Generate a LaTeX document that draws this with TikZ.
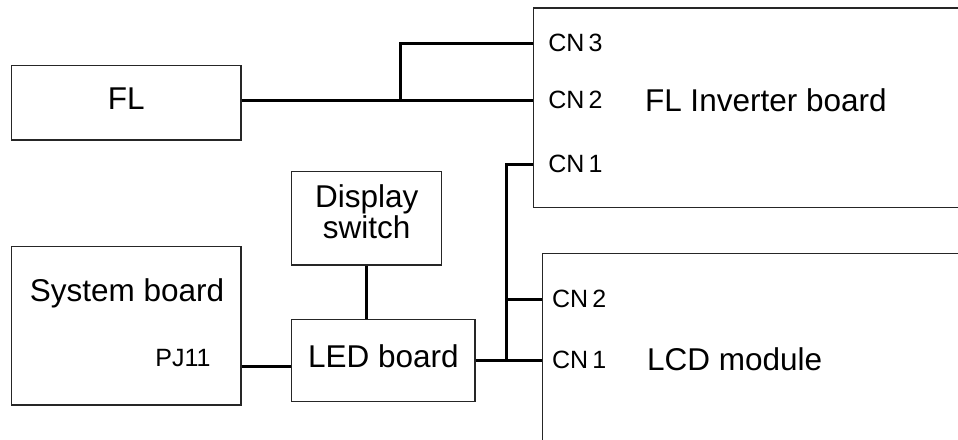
\documentclass[tikz,border=0pt]{standalone}
\usepackage{fontspec}
\setmainfont{Liberation Sans}
\usetikzlibrary{calc}
\newcommand{\bigtext}{\fontsize{15.75}{15.5}\selectfont}
\newcommand{\pintext}{\fontsize{12.5}{14}\selectfont}
\tikzset{
    box/.style={draw=black!85, line width=0.6pt, inner sep=0pt, font=\bigtext,
        text height=11.3pt, text depth=4pt},
    label/.style={inner sep=0pt, font=\bigtext},
    pin/.style={anchor=west, inner sep=0pt, font=\pintext},
    wire/.style={line width=1.5pt}
}
\begin{document}
\begin{tikzpicture}[x=0.5pt,y=-0.5pt]
    \useasboundingbox (0,0) rectangle (958,439);
    \clip (0,0) rectangle (958,439);
    \node[box, minimum width=114.65pt, minimum height=37.35pt] (fl) at (126.35,102.65) {FL};
    \node[box, minimum width=114.65pt, minimum height=79.15pt] (sys) at (126.35,325.85) {};
    \node[label] (systitle) at (127,293) {System board};
    \node[pin, anchor=center] (pj) at (183,358) {PJ11};
    \node[box, minimum width=75pt, minimum height=46.65pt] (disp) at (366.7,218.35) {};
    \node[label, align=center] (disptext) at (366.7,212) {Display\\switch};
    \node[box, minimum width=91.65pt, minimum height=41.2pt] (led) at (383.35,360.5) {LED board};
    \node[box, anchor=north west, minimum width=240pt, minimum height=99.7pt] (inv) at (532.7,7.3) {};
    \node[pin] (icn3) at (548,43.3) {CN\,3};
    \node[pin] (icn2) at (548,100) {CN\,2};
    \node[pin] (icn1) at (548,164) {CN\,1};
    \node[label, anchor=west] (invtitle) at (644.6,100) {FL Inverter board};
    \node[box, anchor=north west, minimum width=220pt, minimum height=120pt] (lcd) at (541.7,252.7) {};
    \node[pin] (lcn2) at (551.7,299.3) {CN\,2};
    \node[pin] (lcn1) at (551.7,360) {CN\,1};
    \node[label, anchor=west] (lcdtitle) at (646.7,359) {LCD module};
    \coordinate (fljoin) at (400,100);
    \coordinate (lcdjoin) at (506.7,360);
    \draw[wire] (fl.east |- icn2) -- (inv.west |- icn2);
    \draw[wire] (fljoin) |- (inv.west |- icn3);
    \draw[wire] (disp.south) -- (disp.south |- led.north);
    \draw[wire] (sys.east |- pj.base) -- (led.west |- pj.base);
    \draw[wire] (led.east |- lcn1) -- (lcd.west |- lcn1);
    \draw[wire] (lcdjoin) |- (inv.west |- icn1);
    \draw[wire] (lcdjoin |- lcn2) -- (lcd.west |- lcn2);
\end{tikzpicture}
\end{document}
